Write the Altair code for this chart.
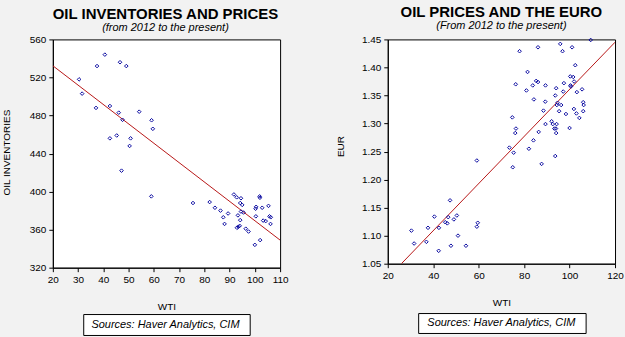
import altair as alt
import pandas as pd

# ---- Left panel: WTI vs oil inventories ----
wti_inv = [30.4, 31.6, 37.5, 40.6, 46.6, 49.1, 37.1, 42.6, 46.1, 47.6, 54.2, 59.1, 59.6,
           42.6, 45.3, 50.8, 50.4, 47.2, 59.0, 75.5, 82.1, 84.2, 86.4, 87.5, 88.0, 89.4,
           91.7, 92.8, 94.5, 94.2, 95.0, 93.3, 94.5, 95.5, 94.2, 94.0, 92.9, 93.5, 96.4,
           97.5, 100.0, 102.1, 100.5, 100.3, 101.9, 102.0, 102.9, 100.4, 103.3, 104.3,
           105.4, 105.8, 106.3, 106.2]
inventories = [518, 503, 532, 544, 536, 532, 488, 490, 483, 475.5, 484, 475, 466,
               456, 459, 456, 448, 422, 395, 388, 389, 383, 380, 373, 366, 377,
               397, 394, 393, 388, 386, 375, 379, 378, 370, 364, 362, 363, 361,
               358, 344, 349, 384, 382, 395, 393.5, 383, 374, 369.5, 369,
               385, 374, 373, 366]
fit_inv_x = [20, 110]
fit_inv_y = [532.3, 349.0]

# ---- Right panel: WTI vs EUR ----
wti_eur = [109.3, 78.0, 86.1, 95.9, 96.9, 101.1, 102.5, 81.5, 76.3, 81.0, 83.8, 85.3, 86.1,
           89.4, 84.3, 89.3, 94.1, 97.2, 97.5, 100.3, 101.6, 102.0, 100.4, 100.6, 103.2,
           105.5, 93.7, 94.7, 94.4, 96.3, 95.4, 98.4, 88.5, 106.0, 106.2, 101.9, 103.0,
           104.3, 106.0, 89.4, 92.1, 92.6, 94.3, 93.3, 94.0, 94.1, 100.0, 74.8, 76.4,
           76.1, 86.4, 84.1, 82.1, 73.5, 75.4, 93.7, 59.2, 75.0, 87.7, 30.4, 31.6, 37.0,
           37.7, 40.5, 42.5, 42.4, 47.4, 45.3, 46.2, 46.6, 49.1, 50.4, 50.9, 47.8, 54.4,
           59.2, 59.6]
eur = [1.449, 1.429, 1.436, 1.442, 1.429, 1.436, 1.404, 1.392, 1.370, 1.359, 1.368, 1.376,
       1.374, 1.368, 1.343, 1.339, 1.363, 1.357, 1.372, 1.384, 1.383, 1.375, 1.368, 1.366,
       1.356, 1.361, 1.350, 1.337, 1.333, 1.333, 1.322, 1.317, 1.323, 1.338, 1.333, 1.326,
       1.318, 1.310, 1.322, 1.299, 1.304, 1.299, 1.299, 1.291, 1.291, 1.283, 1.292, 1.311,
       1.291, 1.283, 1.285, 1.270, 1.255, 1.257, 1.248, 1.242, 1.234, 1.222, 1.228, 1.109,
       1.086, 1.089, 1.114, 1.134, 1.114, 1.073, 1.163, 1.124, 1.122, 1.133, 1.129, 1.136,
       1.100, 1.082, 1.082, 1.116, 1.123]
fit_eur_x = [26.0, 120.0]
fit_eur_y = [1.050, 1.445]

inv_ticks = [320, 360, 400, 440, 480, 520, 560]
inv_xticks = [20, 30, 40, 50, 60, 70, 80, 90, 100, 110]
eur_ticks = [1.05, 1.10, 1.15, 1.20, 1.25, 1.30, 1.35, 1.40, 1.45]
eur_xticks = [20, 40, 60, 80, 100, 120]

source_text = ["Sources:  Haver Analytics, CIM"]

FONT = "Liberation Sans"
PT = "#0A0AA0"
LN = "#B81818"


def panel(px, py, fx, fy, xdom, ydom, xticks, yticks, yfmt, ytitle, title, subtitle,
          w, h, ytitle_x, ytitle_y, box, tpos, frame=None):
    pts = pd.DataFrame({"x": px, "y": py})
    fit = pd.DataFrame({"x": fx, "y": fy})
    xs = alt.Scale(domain=xdom, nice=False, zero=False)
    ys = alt.Scale(domain=ydom, nice=False, zero=False)
    xax = alt.Axis(values=xticks, tickCount=30, format="d", title="WTI", titleY=39,
                   titleBaseline="middle", titleX=w / 2,
                   labelOverlap=False, labelFlush=False)
    yax = alt.Axis(values=yticks, tickCount=30, format=yfmt, title=ytitle,
                   titleX=ytitle_x, titleY=ytitle_y, titleBaseline="middle",
                   titleAngle=-90, labelOverlap=False, labelFlush=False)
    points = alt.Chart(pts).mark_point(shape="diamond", filled=False, size=13,
                                       strokeWidth=1, color=PT, opacity=1).encode(
        x=alt.X("x:Q", scale=xs, axis=xax),
        y=alt.Y("y:Q", scale=ys, axis=yax),
    )
    line = alt.Chart(fit).mark_line(color=LN, strokeWidth=1, clip=True).encode(
        x=alt.X("x:Q", scale=xs, axis=xax),
        y=alt.Y("y:Q", scale=ys, axis=yax),
    )
    src = pd.DataFrame({"t": source_text})
    bx0, bx1, by0, by1, tx, ty = box
    rect = alt.Chart(src).mark_rect(fill="white", stroke="black", strokeWidth=1,
                                    clip=False).encode(
        x=alt.value(bx0), x2=alt.value(bx1), y=alt.value(by0), y2=alt.value(by1))
    txt = alt.Chart(src).mark_text(font=FONT, fontSize=11, fontStyle="italic",
                                   color="black", align="center", baseline="middle",
                                   clip=False).encode(
        x=alt.value(tx), y=alt.value(ty), text="t:N")
    tdf = pd.DataFrame({"t": [title]})
    sdf = pd.DataFrame({"t": [subtitle]})
    tcx, ty1, ty2 = tpos
    ttl = alt.Chart(tdf).mark_text(font=FONT, fontSize=15, fontWeight="bold",
                                   color="black", align="center",
                                   baseline="alphabetic", clip=False).encode(
        x=alt.value(tcx), y=alt.value(ty1), text="t:N")
    sub = alt.Chart(sdf).mark_text(font=FONT, fontSize=11, fontStyle="italic",
                                   color="black", align="center",
                                   baseline="alphabetic", clip=False).encode(
        x=alt.value(tcx), y=alt.value(ty2), text="t:N")
    layers = [line, points, rect, txt, ttl, sub]
    if frame is not None:
        fx0, fx1, fy0, fy1 = frame
        layers.insert(0, alt.Chart(src).mark_rect(opacity=0, clip=False).encode(
            x=alt.value(fx0), x2=alt.value(fx1), y=alt.value(fy0), y2=alt.value(fy1)))
    return alt.layer(*layers).properties(width=w, height=h)


left = panel(wti_inv, inventories, fit_inv_x, fit_inv_y, [20, 110], [320, 560],
             inv_xticks, inv_ticks, "d", "OIL INVENTORIES",
             "OIL INVENTORIES AND PRICES", "(from 2012 to the present)",
             228, 229, -46, 113, (31, 198, 276, 297, 113, 287), (113, -20.5, -8),
             frame=(-52, 573, -38, 299))
right = panel(wti_eur, eur, fit_eur_x, fit_eur_y, [20, 120], [1.05, 1.45],
              eur_xticks, eur_ticks, ".2f", "EUR",
              "OIL PRICES AND THE EURO", "(From 2012 to the present)",
              228, 225, -47, 107, (31, 199, 275, 295, 114, 285), (114, -22.5, -10))

chart = alt.hconcat(left, right, spacing=108, bounds="flush").properties(
    padding=0,
    background="#F2F2F2",
).configure_view(
    fill="white", stroke="black", strokeWidth=1,
).configure_axis(
    grid=False, domainColor="black", tickColor="black", tickSize=4,
    labelFont=FONT, labelFontSize=10, labelColor="black", labelPadding=3,
    titleFont=FONT, titleFontSize=10, titleFontWeight="normal", titleColor="black",
)

chart.save("out.html", embed_options={"renderer": "svg", "actions": False})
